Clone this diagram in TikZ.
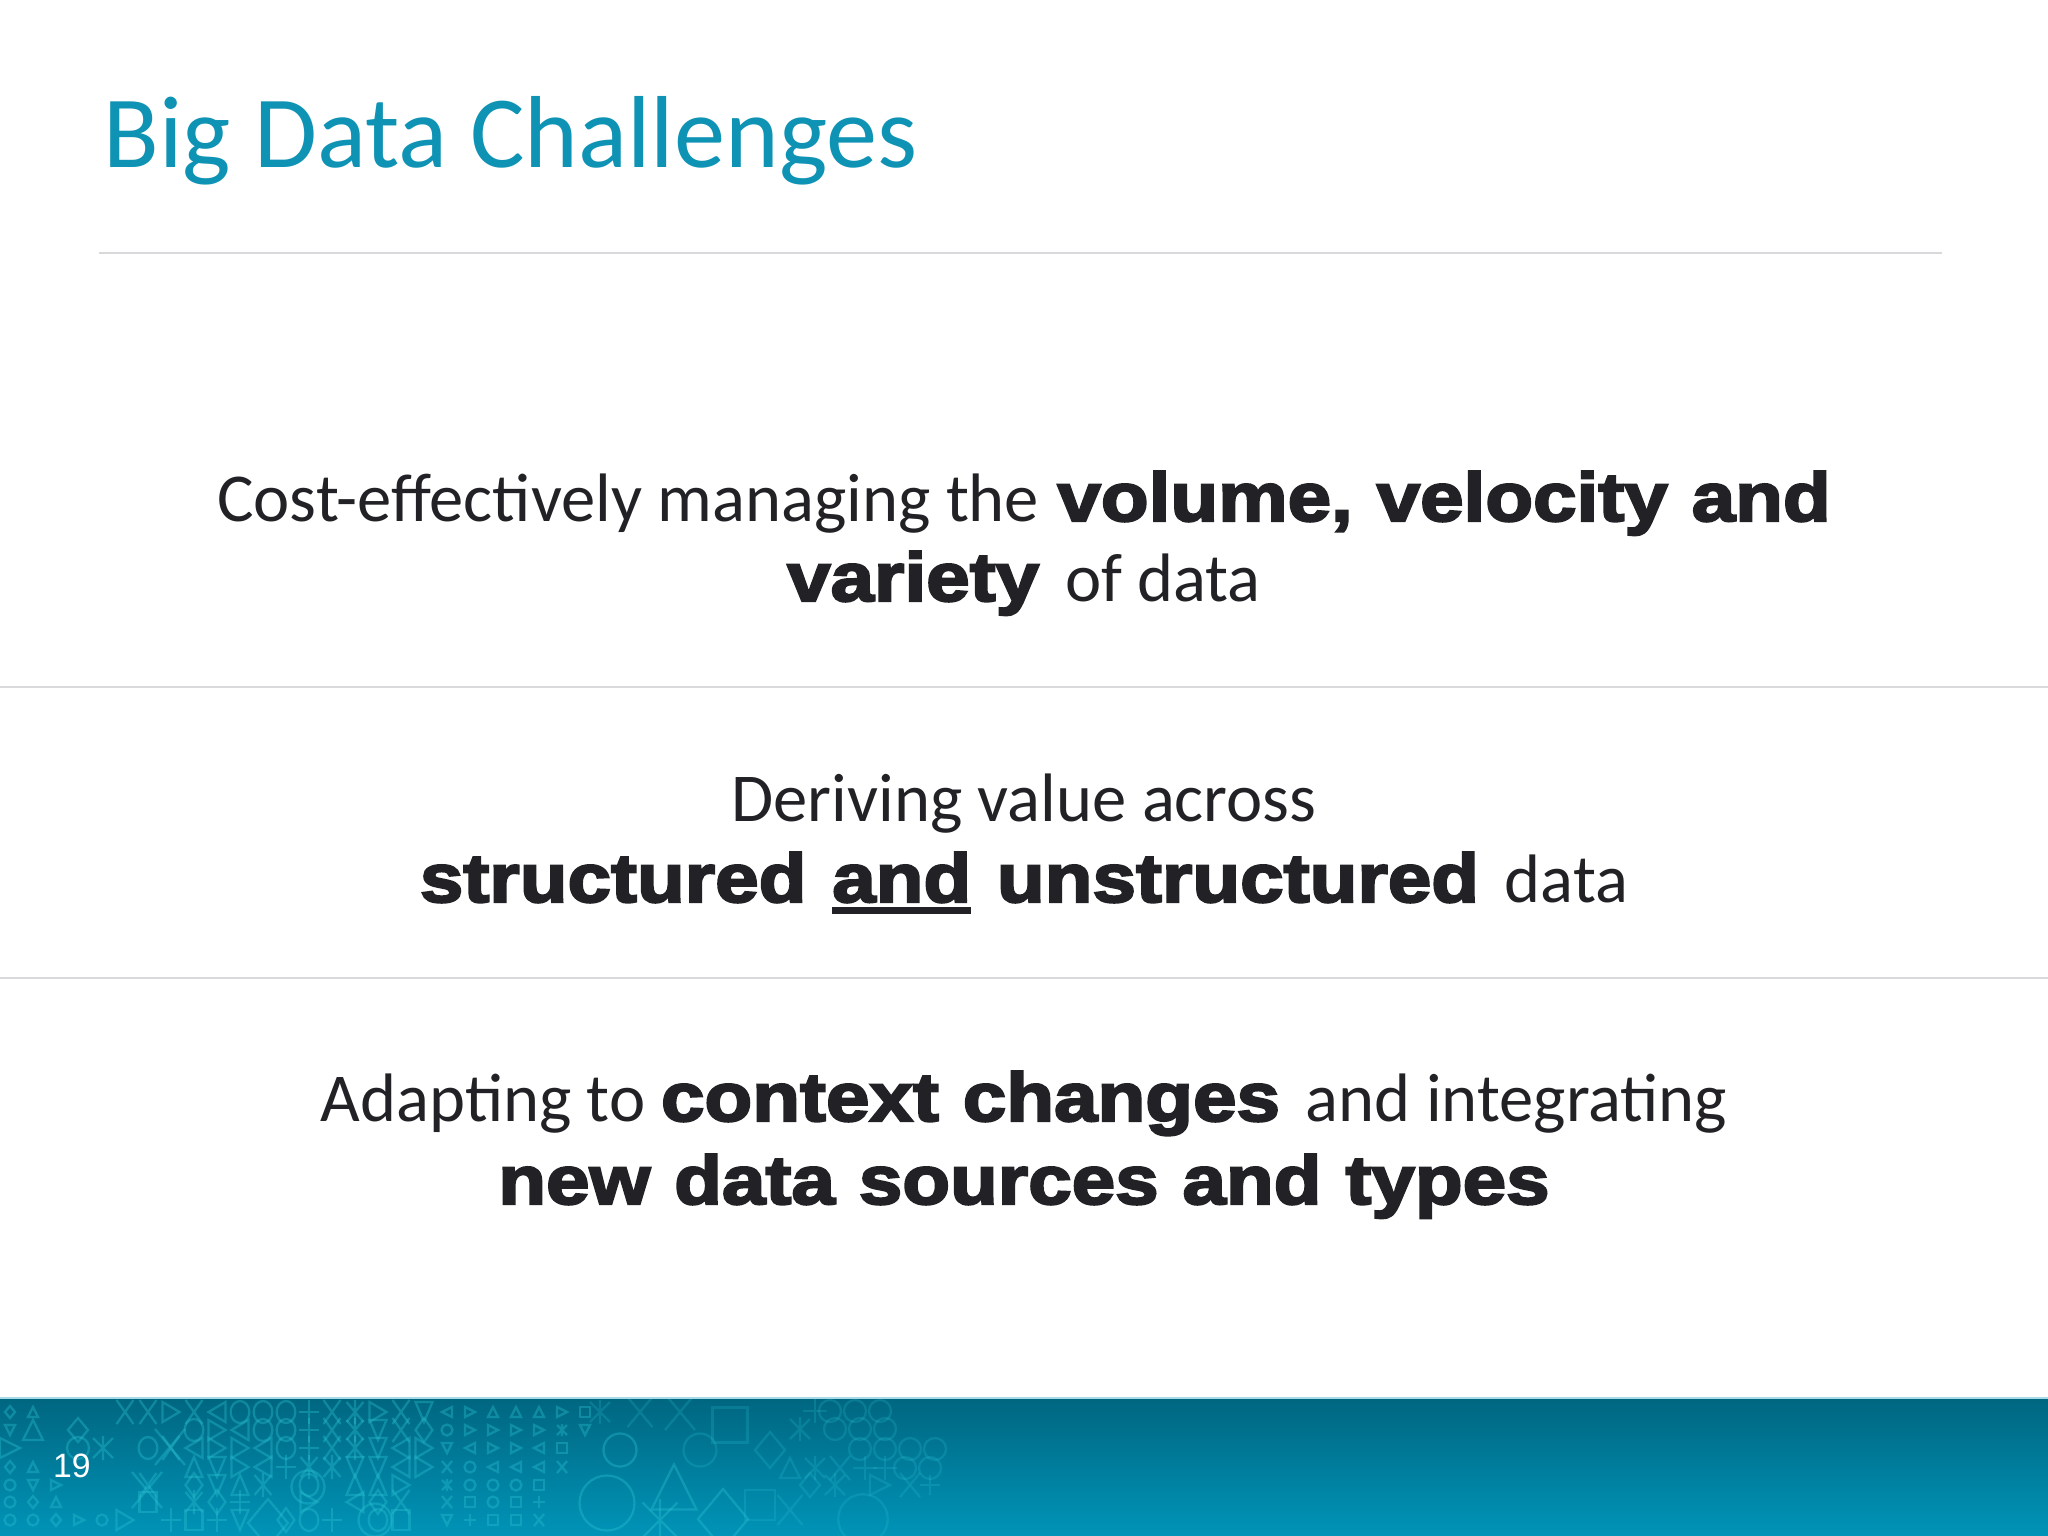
\documentclass[tikz,border=0pt]{standalone}
\usepackage{fontspec}
\setmainfont{Carlito}
\setsansfont{Liberation Sans}
\newfontfamily\heavyfont{Liberation Sans}[FakeBold=3.2,FakeStretch=1.14,WordSpace=1.1]
\usetikzlibrary{positioning}
\definecolor{titleblue}{HTML}{0F93B5}
\definecolor{bodyink}{HTML}{222226}
\definecolor{ruleline}{HTML}{D9D9DC}
\definecolor{bandtop}{HTML}{006680}
\definecolor{bandlow}{HTML}{0094B8}
\definecolor{glyphline}{HTML}{2CC4D4}
\newcommand{\hv}[1]{{\heavyfont\bfseries #1}}
\newcommand{\hvline}[1]{\setbox0\hbox{\heavyfont\bfseries #1}\rlap{\rule[-0.17em]{\wd0}{0.1em}}\box0\relax}
\newcommand{\hvgap}{\hspace{0.15em}}
\tikzset{
	titletext/.style = {anchor = base west, text = titleblue, inner sep = 0pt, font = \fontsize{29.1pt}{32pt}\selectfont},
	bodytext/.style = {anchor = base, text = bodyink, inner sep = 0pt, font = \fontsize{19.5pt}{22pt}\selectfont},
	pagetext/.style = {anchor = base, text = white, inner sep = 0pt, font = \sffamily\fontsize{9.6pt}{11pt}\selectfont},
	tall/.style = {xscale = 1.7, yscale = 2},
	no/.pic = {},
	tu/.pic = {\draw (-5,5) -- (5,5) -- (0,-5) -- cycle;},
	td/.pic = {\draw (-5,-5) -- (5,-5) -- (0,5) -- cycle;},
	tr/.pic = {\draw (-5,-5) -- (5,0) -- (-5,5) -- cycle;},
	tl/.pic = {\draw (5,-5) -- (-5,0) -- (5,5) -- cycle;},
	bx/.pic = {\draw (-5,-5) rectangle (5,5);},
	ci/.pic = {\draw (0,0) circle (5.5);},
	di/.pic = {\draw (-5,0) -- (0,-6) -- (5,0) -- (0,6) -- cycle;},
	xx/.pic = {\draw (-5,-6) -- (5,6) (-5,6) -- (5,-6);},
	pl/.pic = {\draw (-6,0) -- (6,0) (0,-6) -- (0,6);},
	st/.pic = {\draw (-5,-5) -- (5,5) (-5,5) -- (5,-5) (0,-6) -- (0,6);}
}
\begin{document}
\begin{tikzpicture}[x=0.01cm, y=-0.01cm]
	\useasboundingbox (0,0) rectangle (2048,1536);
	% band
	\fill[white] (0,0) rectangle (2048,1536);
	\fill[top color=bandtop, bottom color=bandlow] (0,1398) rectangle (2048,1536);
	\fill[bandlow!35!white] (0,1397) rectangle (2048,1399);
	% faint glyphs on the band
	\begin{scope}[draw=glyphline, draw opacity=0.36, line width=0.65pt]
		\clip (0,1399) rectangle (2048,1536);
		% small grid
		\foreach \rowy/\rowlist in {
			1412/{tl,tr,tu,tu,tu,tr,bx},
			1430/{ci,tr,tr,tr,tr,st,td},
			1448/{td,tl,tr,tr,tl,bx},
			1467/{xx,ci,tl,tl,tl,xx},
			1485/{st,ci,ci,ci,bx},
			1502/{xx,bx,ci,bx,pl},
			1520/{td,pl,bx,bx,xx}}
			\foreach \k [count=\i] in \rowlist
				\pic at ({424+23*\i},\rowy) {\k};
		% small grid at the left edge
		\foreach \rowy/\rowlist in {
			1412/{di,tu},
			1430/{td},
			1467/{di,tu},
			1485/{ci,td,tr},
			1502/{ci,di,tu},
			1520/{ci,ci,di,tr,ci}}
			\foreach \k [count=\i] in \rowlist
				\pic at ({23*\i-13},\rowy) {\k};
		% tall glyphs
		\foreach \rowy/\rowlist in {
			1412/{xx,xx,tr,xx,tl,ci,ci,ci,pl,xx,st,tr,xx,td},
			1430/{no,no,no,ci,tr,tl,ci,ci,pl,xx,st,td,xx,di},
			1448/{no,ci,xx,tl,tr,tr,tl,ci,pl,xx,st,td,tl,tr},
			1467/{no,no,no,tu,td,tr,tl,pl,st,st,td,td,tl,tr},
			1485/{no,xx,no,di,td,tu,st,no,ci,no,tu,tu,tr,no},
			1502/{no,bx,no,st,di,pl,no,no,tr,no,tl,di,xx,no},
			1520/{tr,no,pl,bx,pl,td,no,di,ci,pl,no,ci,bx,no}}
			\foreach \k [count=\i] in \rowlist
				\pic[tall] at ({102+23*\i},\rowy) {\k};
		% large glyphs
		\foreach \gx/\gy/\gs/\k in {
			33/1430/2/tu, 78/1430/2/di, 10/1448/2/tr, 78/1448/2/ci, 103/1448/2/st,
			147/1490/3/xx, 170/1447/3/xx, 268/1523/4/di, 308/1487/3/ci, 375/1520/3/ci,
			607/1503/5/ci, 674/1487/4.5/tu, 660/1520/3.5/st, 723/1519/5/di, 620/1450/3/ci}
			\pic[scale=\gs] at (\gx,\gy) {\k};
		% further right they fade out
		\begin{scope}[draw opacity=0.22]
			\foreach \gx/\gy/\gs/\k in {
				600/1412/2/st, 640/1412/2.5/xx, 680/1412/3/xx, 730/1425/3.5/bx, 700/1450/3/ci, 770/1450/3/di,
				815/1411/2/pl, 830/1411/2/ci, 855/1411/2/ci, 880/1411/2/ci,
				800/1429/2/st, 835/1429/2/ci, 860/1429/2/ci, 885/1429/2/ci,
				860/1449/2/ci, 885/1449/2/ci, 910/1449/2/ci, 935/1449/2/ci,
				790/1468/2/tu, 815/1468/2/st, 840/1468/2/xx, 865/1468/2/pl, 885/1468/2/pl, 905/1468/2/ci, 930/1468/2/ci,
				810/1485/2/di, 835/1485/2/st, 880/1485/2/tr, 910/1485/2/xx, 930/1485/1.6/pl,
				863/1519/4.5/ci, 790/1510/2.5/xx, 760/1505/3/bx}
				\pic[scale=\gs] at (\gx,\gy) {\k};
		\end{scope}
	\end{scope}
	% title and rules
	\node[titletext] (title) at (103,167) {Big Data Challenges};
	\coordinate (topleft) at (99,253);
	\coordinate (topright) at (1942,253);
	\coordinate (upperleft) at (0,687);
	\coordinate (upperright) at (2048,687);
	\coordinate (lowerleft) at (0,978);
	\coordinate (lowerright) at (2048,978);
	\draw[ruleline, line width=0.5pt] (topleft) -- (topright);
	\draw[ruleline, line width=0.6pt] (upperleft) -- (upperright);
	\draw[ruleline, line width=0.6pt] (lowerleft) -- (lowerright);
	% body lines
	\node[bodytext] (costline) at (1024,521) {Cost-effectively managing the\hspace{0.04em} \hv{volume, velocity and}};
	\node[bodytext] (varietyline) at (1024,601) {\hv{variety}\hvgap{} of data};
	\node[bodytext] (derivingline) at (1024,821) {Deriving value across};
	\node[bodytext] (structuredline) at (1024,902) {\hv{structured}\hvgap{} \hvline{and}\hvgap{} \hv{unstructured}\hvgap{} data};
	\node[bodytext] (adaptingline) at (1024,1121) {Adapting to \hv{context changes}\hvgap{} and integrating};
	\node[bodytext] (newdataline) at (1024,1204) {\hv{new data sources and types}};
	\node[pagetext] (pagenum) at (72,1477) {19};
\end{tikzpicture}
\end{document}
